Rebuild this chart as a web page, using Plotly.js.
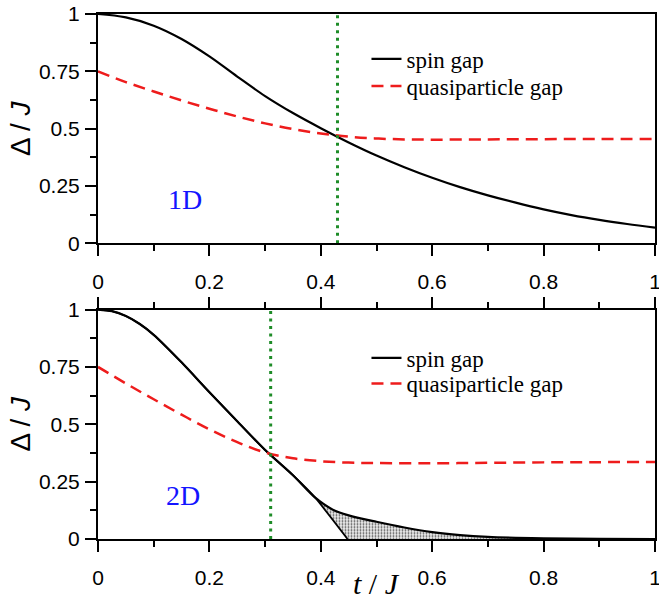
<!DOCTYPE html>
<html><head><meta charset="utf-8">
<script src="https://cdn.plot.ly/plotly-3.0.1.min.js"></script>
<style>html,body{margin:0;padding:0;background:#fff}</style>
</head><body><div id="chart" style="width:659px;height:609px"></div>
<script>
// ---- 1D panel data ----
const t1 = [0, 0.05, 0.1, 0.15, 0.2, 0.25, 0.3, 0.35, 0.4, 0.45, 0.5, 0.55, 0.6, 0.65, 0.7, 0.75, 0.8, 0.85, 0.9, 0.95, 1.0];
const spin1 = [1, 0.985, 0.949, 0.891, 0.815, 0.727, 0.642, 0.568, 0.502, 0.44, 0.383, 0.332, 0.286, 0.245, 0.209, 0.177, 0.148, 0.123, 0.102, 0.084, 0.068];
const tq1 = [0, 0.05, 0.1, 0.15, 0.2, 0.25, 0.3, 0.35, 0.4, 0.45, 0.5, 0.55, 0.6, 0.7, 0.8, 0.9, 1.0];
const qp1 = [0.75, 0.703, 0.662, 0.623, 0.587, 0.553, 0.523, 0.498, 0.479, 0.465, 0.457, 0.453, 0.452, 0.453, 0.454, 0.455, 0.455];
const tc1 = 0.43;

// ---- 2D panel data ----
const t2 = [0, 0.025, 0.05, 0.075, 0.1, 0.15, 0.2, 0.25, 0.3, 0.35, 0.39, 0.42, 0.45, 0.5, 0.55, 0.6, 0.65, 0.7, 0.75, 0.8, 0.9, 1.0];
const spin2 = [1, 0.993, 0.972, 0.937, 0.89, 0.77, 0.64, 0.513, 0.388, 0.278, 0.18, 0.13, 0.103, 0.075, 0.05, 0.03, 0.017, 0.009, 0.005, 0.003, 0.001, 0];
const branchT = [0.448];   // lower bound of the spin gap reaches zero here
const branchV = [0];
const tq2 = [0, 0.05, 0.1, 0.15, 0.2, 0.25, 0.3, 0.35, 0.4, 0.45, 0.5, 0.6, 0.7, 0.8, 0.9, 1.0];
const qp2 = [0.75, 0.678, 0.609, 0.542, 0.478, 0.422, 0.377, 0.352, 0.339, 0.333, 0.331, 0.33, 0.332, 0.334, 0.335, 0.336];
const tc2 = 0.31;

const seriesNames = ['spin gap', 'quasiparticle gap'];
const panelLabels = ['1D', '2D'];
const xTickVals = [0, 0.2, 0.4, 0.6, 0.8, 1];
const xTickText = ['0', '0.2', '0.4', '0.6', '0.8', '1'];
const yTickVals = [0, 0.25, 0.5, 0.75, 1];
const yTickText = ['0', '0.25', '0.5', '0.75', '1'];

// lower branch: shared curve up to the split point, then straight down to zero
const splitIdx = t2.indexOf(0.39);
const lowT = t2.slice(0, splitIdx + 1).concat(branchT);
const lowV = spin2.slice(0, splitIdx + 1).concat(branchV);

const RED = '#ee1c1c';
const GREEN = 'rgb(30,140,40)';
const dashRed = '12px,7px';
const dotGreen = '3px,4.5px';

const traces = [
  {x: t1, y: spin1, xaxis: 'x', yaxis: 'y', mode: 'lines', name: seriesNames[0], legend: 'legend',
   line: {color: '#000', width: 2.2, shape: 'spline', smoothing: 1}},
  {x: tq1, y: qp1, xaxis: 'x', yaxis: 'y', mode: 'lines', name: seriesNames[1], legend: 'legend2',
   line: {color: RED, width: 2.5, dash: dashRed, shape: 'spline', smoothing: 1}},
  {x: [tc1, tc1], y: [0, 1], xaxis: 'x', yaxis: 'y', mode: 'lines', showlegend: false,
   line: {color: GREEN, width: 3, dash: dotGreen}},

  {x: t2, y: spin2, xaxis: 'x2', yaxis: 'y2', mode: 'lines', name: seriesNames[0], legend: 'legend3',
   line: {color: '#000', width: 2.2, shape: 'spline', smoothing: 0.8}},
  {x: lowT, y: lowV, xaxis: 'x2', yaxis: 'y2', mode: 'lines', showlegend: false,
   fill: 'tonexty', fillcolor: '#ececec',
   fillpattern: {shape: '.', fgcolor: '#555', bgcolor: '#ececec', size: 3, solidity: 0.3},
   line: {color: '#000', width: 1.8, shape: 'spline', smoothing: 0.4}},
  {x: tq2, y: qp2, xaxis: 'x2', yaxis: 'y2', mode: 'lines', name: seriesNames[1], legend: 'legend4',
   line: {color: RED, width: 2.5, dash: dashRed, shape: 'spline', smoothing: 1}},
  {x: [tc2, tc2], y: [0, 1], xaxis: 'x2', yaxis: 'y2', mode: 'lines', showlegend: false,
   line: {color: GREEN, width: 3, dash: dotGreen}}
];

const tickFont = {family: 'Liberation Sans, Arial, sans-serif', size: 21, color: '#000'};
function xAx(anchor, mirror) {
  return {
    anchor: anchor, range: [0, 1], tickvals: xTickVals, ticktext: xTickText,
    ticks: 'outside', ticklen: 11, tickwidth: 2, tickcolor: '#000',
    showline: true, linewidth: 2, linecolor: '#000', mirror: mirror,
    showgrid: false, zeroline: false, tickfont: tickFont, ticklabelstandoff: 8,
    ticklabeloverflow: 'allow',
    minor: {dtick: 0.1, ticks: 'outside', ticklen: 6, tickwidth: 2, tickcolor: '#000', showgrid: false}
  };
}
function yAx(anchor, domain) {
  return {
    anchor: anchor, domain: domain, range: [0, 1], tickvals: yTickVals, ticktext: yTickText,
    ticks: 'outside', ticklen: 11, tickwidth: 2, tickcolor: '#000',
    showline: true, linewidth: 2, linecolor: '#000', mirror: true,
    showgrid: false, zeroline: false, tickfont: tickFont, ticklabelstandoff: 1,
    ticklabeloverflow: 'allow',
    minor: {dtick: 0.125, ticks: 'outside', ticklen: 6, tickwidth: 2, tickcolor: '#000', showgrid: false},
    title: {text: 'Δ / <i>J</i>', font: {family: 'Liberation Sans, Arial, sans-serif', size: 28, color: '#000'}, standoff: 0}
  };
}
const legFont = {family: 'Liberation Serif, Times New Roman, serif', size: 23, color: '#000'};
const serif = 'Liberation Serif, Times New Roman, serif';
function leg(y) {
  return {x: 0.482, y: y, xanchor: 'left', yanchor: 'middle', bgcolor: 'rgba(0,0,0,0)', font: legFont};
}
const layout = {
  width: 659, height: 609,
  margin: {l: 98, r: 4, t: 14, b: 70},
  paper_bgcolor: '#fff', plot_bgcolor: '#fff',
  showlegend: true,
  xaxis: xAx('y', true),
  yaxis: yAx('x', [0.5633, 1]),
  xaxis2: xAx('y2', 'allticks'),
  yaxis2: yAx('x2', [0, 0.437]),
  legend: leg(0.9143),
  legend2: leg(0.8627),
  legend3: leg(0.3448),
  legend4: leg(0.2962),
  annotations: [
    {text: panelLabels[0], xref: 'x', yref: 'y', x: 0.156, y: 0.19, showarrow: false,
     font: {family: serif, size: 28, color: '#1414ff'}},
    {text: panelLabels[1], xref: 'x2', yref: 'y2', x: 0.153, y: 0.19, showarrow: false,
     font: {family: serif, size: 28, color: '#1414ff'}},
    {text: '<i>t</i> / <i>J</i>', xref: 'x2', yref: 'paper', x: 0.5, y: -0.084, yanchor: 'middle', showarrow: false,
     font: {family: serif, size: 30, color: '#000'}}
  ]
};
Plotly.newPlot('chart', traces, layout, {staticPlot: true, displayModeBar: false});
</script></body></html>
